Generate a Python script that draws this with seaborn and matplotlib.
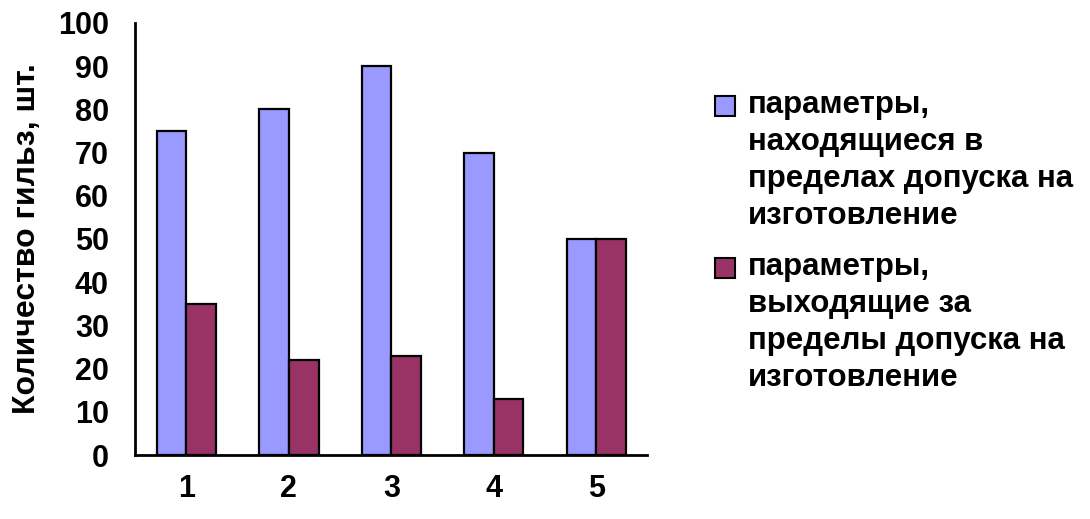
import matplotlib
matplotlib.use("Agg")
import matplotlib.pyplot as plt
from matplotlib.patches import Rectangle
import seaborn as sns
import pandas as pd
import numpy as np

categories = ["1", "2", "3", "4", "5"]
within_tol = [75, 80, 90, 70, 50]
outside_tol = [35, 22, 23, 13, 50]
series_names = [
    "параметры,\nнаходящиеся в\nпределах допуска на\nизготовление",
    "параметры,\nвыходящие за\nпределы допуска на\nизготовление",
]
y_ticks = list(range(0, 101, 10))
y_label = "Количество гильз, шт."
colors = ["#9999FF", "#993366"]

df = pd.DataFrame({
    "cat": categories * 2,
    "value": within_tol + outside_tol,
    "series": [series_names[0]] * len(categories) + [series_names[1]] * len(categories),
})

sns.set_style("white")
plt.rcParams["font.family"] = ["Liberation Sans", "DejaVu Sans"]
plt.rcParams["font.weight"] = "bold"
plt.rcParams["text.color"] = "black"
plt.rcParams["xtick.color"] = "black"
plt.rcParams["ytick.color"] = "black"
plt.rcParams["axes.labelcolor"] = "black"

fig = plt.figure(figsize=(10.9, 5.19), dpi=100)
ax = fig.add_axes([0.124, 0.1233, 0.470, 0.8324])

sns.barplot(data=df, x="cat", y="value", hue="series", palette=colors,
            saturation=1, width=0.58, gap=0, edgecolor="black", linewidth=1.6,
            order=categories, hue_order=series_names, ax=ax, legend=False)

ax.set_xlim(-0.5, len(categories) - 0.5)
ax.set_ylim(0, 100)
ax.set_yticks(y_ticks)
ax.set_xticks(np.arange(len(categories)))
ax.set_xticklabels(categories)
ax.set_xticks(np.arange(-0.5, len(categories)), minor=True)
ax.tick_params(axis="x", which="major", length=0, pad=14, labelsize=22)
ax.tick_params(axis="x", which="minor", length=7, width=2, direction="out")
ax.tick_params(axis="y", length=6, width=2, direction="out", labelsize=22, pad=13)
for lab in ax.get_xticklabels() + ax.get_yticklabels():
    lab.set_fontweight("bold")

for side in ["top", "right"]:
    ax.spines[side].set_visible(False)
for side in ["left", "bottom"]:
    ax.spines[side].set_linewidth(2)
    ax.spines[side].set_color("black")

ax.set_xlabel("")
ax.set_ylabel(y_label, fontsize=23, fontweight="bold", labelpad=11)

# legend: colour swatch beside the first line of each wrapped label
W, H = fig.get_size_inches() * fig.dpi
swatch_x, swatch_size = 715, 20
text_x = 748
first_line_y = [106, 268]
for color, name, ly in zip(colors, series_names, first_line_y):
    fig.patches.append(Rectangle((swatch_x / W, 1 - (ly + swatch_size / 2) / H),
                                 swatch_size / W, swatch_size / H,
                                 transform=fig.transFigure, facecolor=color,
                                 edgecolor="black", linewidth=1.5))
    fig.text(text_x / W, 1 - (ly - 16) / H, name, fontsize=22.5, fontweight="bold",
             ha="left", va="top", linespacing=1.3)

fig.savefig("out.png", dpi=100, facecolor="white")
